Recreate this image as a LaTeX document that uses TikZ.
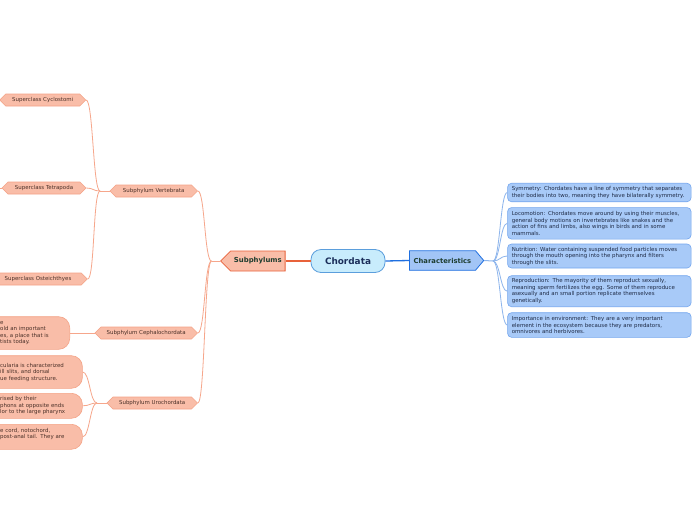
\documentclass[tikz,border=0pt]{standalone}
\usepackage{fontspec}
\setmainfont{DejaVu Sans}
\usetikzlibrary{shapes.symbols}
\definecolor{salfill}{HTML}{F9BDA8}
\definecolor{salline}{HTML}{F4A386}
\definecolor{saldark}{HTML}{E8623A}
\definecolor{salconn}{HTML}{F6A68B}
\definecolor{saltext}{HTML}{4A3028}
\definecolor{bluefill}{HTML}{A8CAF8}
\definecolor{blueline}{HTML}{74A6EE}
\definecolor{bluedark}{HTML}{1F6FE0}
\definecolor{blueconn}{HTML}{8DB5EC}
\definecolor{bluetext}{HTML}{1E2A45}
\definecolor{rootfill}{HTML}{C8ECFC}
\definecolor{rootline}{HTML}{5B9EDC}
\definecolor{roottext}{HTML}{1B2E5A}
\definecolor{maintext}{HTML}{1E3D2F}
\definecolor{charfill}{HTML}{A2C5F6}
\tikzset{
  small/.style={font=\fontsize{5.45}{6.5}\selectfont},
  hexa/.style={shape=signal, signal to=west and east, signal pointer angle=90,
    fill=salfill, draw=salline, line width=0.6pt, text=saltext, small,
    inner sep=0pt, minimum height=12pt},
  notebox/.style={rectangle, rounded corners=11pt, fill=salfill, draw=salline,
    line width=0.6pt, text=saltext, small, align=left, inner xsep=12pt,
    inner ysep=0pt, anchor=east},
  bluebox/.style={rectangle, rounded corners=4pt, fill=bluefill, draw=blueline,
    line width=0.6pt, text=bluetext, small, align=left, text width=175pt,
    inner xsep=4.25pt, inner ysep=0pt},
  lconn/.style={draw=salconn, line width=0.8pt},
  rconn/.style={draw=blueconn, line width=0.8pt},
}
\begin{document}
\begin{tikzpicture}[x=1pt,y=-1pt]
\useasboundingbox (0,0) rectangle (696,520);
\clip (0,0) rectangle (696,520);
\fill[white] (0,0) rectangle (696,520);

% root
\node[rectangle, rounded corners=10pt, fill=rootfill, draw=rootline, line width=0.8pt,
  minimum width=74pt, minimum height=23pt, inner sep=0pt, text=roottext,
  font=\fontsize{8.9}{10}\selectfont\bfseries] (chord) at (348,261) {Chordata};

\node[shape=signal, signal to=west, signal pointer angle=90, fill=salfill, draw=saldark,
  line width=0.8pt, minimum width=64.5pt, minimum height=20pt, inner sep=0pt,
  text=maintext, font=\fontsize{6.9}{8}\selectfont\bfseries, anchor=east]
  (subp) at (285.5,261) {Subphylums};

\node[shape=signal, signal to=east, signal pointer angle=100, fill=charfill, draw=bluedark,
  line width=0.8pt, minimum width=74.3pt, minimum height=19.5pt, inner sep=0pt,
  text=maintext, font=\fontsize{6.8}{8}\selectfont\bfseries, anchor=west]
  (char) at (409,260.5) {Characteristics};

% subphyla
\node[hexa, minimum width=87.5pt] (vert) at (153.7,191) {Subphylum Vertebrata};
\node[hexa, minimum width=102.5pt] (ceph) at (146.2,333) {Subphylum Cephalochordata};
\node[hexa, minimum width=90.5pt] (uro) at (152.2,403) {Subphylum Urochordata};

% superclasses
\node[hexa, minimum width=86pt] (cyc) at (42.7,100) {Superclass Cyclostomi};
\node[hexa, minimum width=84pt] (tet) at (44,188) {Superclass Tetrapoda};
\node[hexa, minimum width=98.6pt] (ost) at (38,279) {Superclass Osteichthyes};

% notes (cut at the left edge)
\node[notebox, text width=57.5pt, minimum height=32.6pt] (cnote) at (70,333)
  {e\\old an important\\es, a place that is\\tists today.};
\node[notebox, text width=70.2pt, minimum height=32.6pt] (unote1) at (82.7,372)
  {cularia is characterized\\ill slits, and dorsal\\ue feeding structure.};
\node[notebox, text width=70.2pt, minimum height=25pt] (unote2) at (82.7,405.8)
  {rised by their\\phons at opposite ends\\lor to the large pharynx};
\node[notebox, text width=70.2pt, minimum height=25pt] (unote3) at (82.7,436.8)
  {e cord, notochord,\\post-anal tail. They are\\\mbox{}};

% characteristics
\node[bluebox, minimum height=18.5pt] (b1) at (599.3,192.5)
  {Symmetry: Chordates have a line of symmetry that separates\\their bodies into two, meaning they have bilaterally symmetry.};
\node[bluebox, minimum height=31.5pt] (b2) at (599.3,223.3)
  {Locomotion: Chordates move around by using their muscles,\\general body motions on invertebrates like snakes and the\\action of fins and limbs, also wings in birds and in some\\mammals.};
\node[bluebox, minimum height=24pt] (b3) at (599.3,256)
  {Nutrition: Water containing suspended food particles moves\\through the mouth opening into the pharynx and filters\\through the slits.};
\node[bluebox, minimum height=31pt] (b4) at (599.3,291.2)
  {Reproduction: The mayority of them reproduct sexually,\\meaning sperm fertilizes the egg. Some of them reproduce\\asexually and an small portion replicate themselves\\genetically.};
\node[bluebox, minimum height=24.6pt] (b5) at (599.3,325)
  {Importance in environment: They are a very important\\element in the ecosystem because they are predators,\\omnivores and herbivores.};

% connectors
\draw[saldark, line width=1.3pt] (chord.west) -- (subp.east);
\draw[bluedark, line width=1.3pt] (chord.east) -- (char.west);

\coordinate (bs) at (211.5,261);
\draw[lconn, line width=1pt] (subp.west) -- (bs);
\draw[lconn] (bs) .. controls +(-7,0) and +(7,0) .. (vert.east);
\draw[lconn] (bs) .. controls +(-7,0) and +(7,0) .. (ceph.east);
\draw[lconn] (bs) .. controls +(-7,0) and +(7,0) .. (uro.east);

\coordinate (bv) at (100,191);
\draw[lconn, line width=1pt] (vert.west) -- (bv);
\draw[lconn] (bv) .. controls +(-7,0) and +(7,0) .. (cyc.east);
\draw[lconn] (bv) .. controls +(-7,0) and +(7,0) .. (tet.east);
\draw[lconn] (bv) .. controls +(-7,0) and +(7,0) .. (ost.east);

\coordinate (tl) at (-5,188);
\draw[lconn, line width=1pt] (tet.west) -- (tl);

\draw[lconn] (ceph.west) -- (cnote.east);

\coordinate (bu) at (97,403);
\draw[lconn, line width=1pt] (uro.west) -- (bu);
\draw[lconn] (bu) .. controls +(-7,0) and +(7,0) .. (unote1.east);
\draw[lconn] (bu) .. controls +(-7,0) and +(7,0) .. (unote2.east);
\draw[lconn] (bu) .. controls +(-7,0) and +(7,0) .. (unote3.east);

\coordinate (bc) at (493,261);
\draw[rconn, line width=1pt] (char.east) -- (bc);
\draw[rconn] (bc) .. controls +(7,0) and +(-7,0) .. (b1.west);
\draw[rconn] (bc) .. controls +(7,0) and +(-7,0) .. (b2.west);
\draw[rconn] (bc) .. controls +(7,0) and +(-7,0) .. (b3.west);
\draw[rconn] (bc) .. controls +(7,0) and +(-7,0) .. (b4.west);
\draw[rconn] (bc) .. controls +(7,0) and +(-7,0) .. (b5.west);
\end{tikzpicture}
\end{document}
